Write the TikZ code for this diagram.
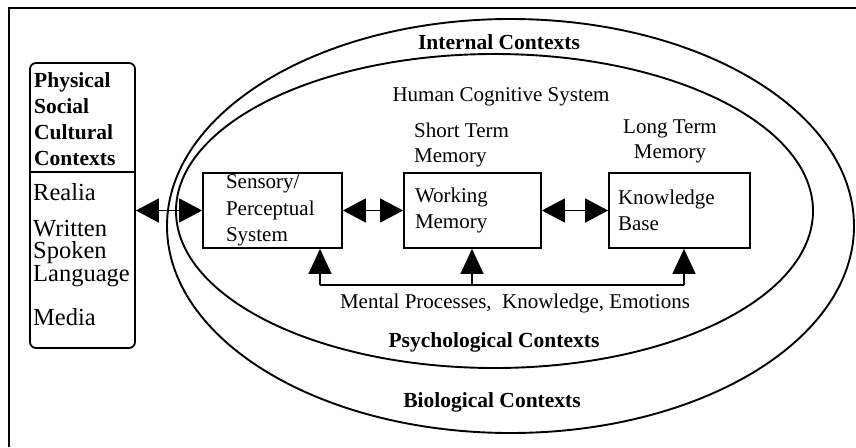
\documentclass[tikz,border=0pt]{standalone}
\usepackage{fontspec}
\setmainfont{Liberation Serif}
\usetikzlibrary{arrows.meta}
\tikzset{
  cbox/.style={draw, line width=1.8pt, minimum height=75pt, inner ysep=0pt, align=left, font=\fontsize{21}{26.5}\selectfont},
  plain/.style={inner sep=0pt, font=\fontsize{21}{25}\selectfont},
  boldlab/.style={inner sep=0pt, font=\fontsize{21.5}{26}\selectfont\bfseries},
  panelbig/.style={inner sep=0pt, align=left, anchor=west, font=\fontsize{24.5}{22.5}\selectfont},
  dbl/.style={line width=1.6pt, {Triangle[length=23pt,width=24pt]}-{Triangle[length=23pt,width=24pt]}},
  uparr/.style={line width=1.6pt, -{Triangle[length=25pt,width=23pt]}},
  ring/.style={line width=1.9pt}
}
\begin{document}
\begin{tikzpicture}[x=1pt,y=-1pt]
\useasboundingbox (0,0) rectangle (856,447);
% outer frame (top and left visible)
\draw[line width=2.4pt] (9,447) -- (9,8) -- (856,8);
% ellipses
\draw[ring] (510.5,226) ellipse [x radius=343.5pt, y radius=207pt];
\draw[ring] (494.5,211) ellipse [x radius=318.5pt, y radius=157pt];
% left panel
\node[draw, line width=1.8pt, rounded corners=6pt, minimum width=105pt, minimum height=285pt, inner sep=0pt] (panel) at (82.5,205.5) {};
\coordinate (divy) at (0,172);
\draw[line width=1.8pt] (panel.west |- divy) -- (panel.east |- divy);
\node[boldlab, align=left, anchor=west] (psc) at (34,119) {Physical\\Social\\Cultural\\Contexts};
\node[panelbig] (realia) at (33,192) {Realia};
\node[panelbig] (wsl) at (33,253.5) {Written\\Spoken\\Language};
\node[panelbig] (media) at (33,317) {Media};
% boxes
\node[cbox, text width=93pt, inner xsep=23pt] (sens) at (272.5,210.5) {Sensory/\\Perceptual\\System};
\node[cbox, text width=115pt, inner xsep=11pt] (work) at (472.5,210.5) {Working\\Memory};
\node[cbox, text width=123pt, inner xsep=9pt] (know) at (679.5,210.5) {Knowledge\\Base};
% labels
\node[boldlab] (internal) at (499,42) {Internal Contexts};
\node[plain] (hcs) at (501,97) {Human Cognitive System};
\node[plain, align=left, anchor=west] (stm) at (414,144.5) {Short Term\\Memory};
\node[plain, align=center] (ltm) at (670,141) {Long Term\\Memory};
\node[plain] (mental) at (515,303) {Mental Processes,~ Knowledge, Emotions};
\node[boldlab] (psych) at (494,342) {Psychological Contexts};
\node[boldlab] (bio) at (492,402) {Biological Contexts};
% arrows
\draw[dbl] (panel.east |- sens.west) -- (sens.west);
\draw[dbl] (sens.east) -- (work.west);
\draw[dbl] (work.east) -- (know.west);
\coordinate (b1) at (320,285);
\coordinate (b2) at (472,285);
\coordinate (b3) at (684,285);
\draw[line width=1.6pt] (b1) -- (b3);
\draw[uparr] (b1) -- (b1 |- sens.south);
\draw[uparr] (b2) -- (b2 |- work.south);
\draw[uparr] (b3) -- (b3 |- know.south);
\end{tikzpicture}
\end{document}
